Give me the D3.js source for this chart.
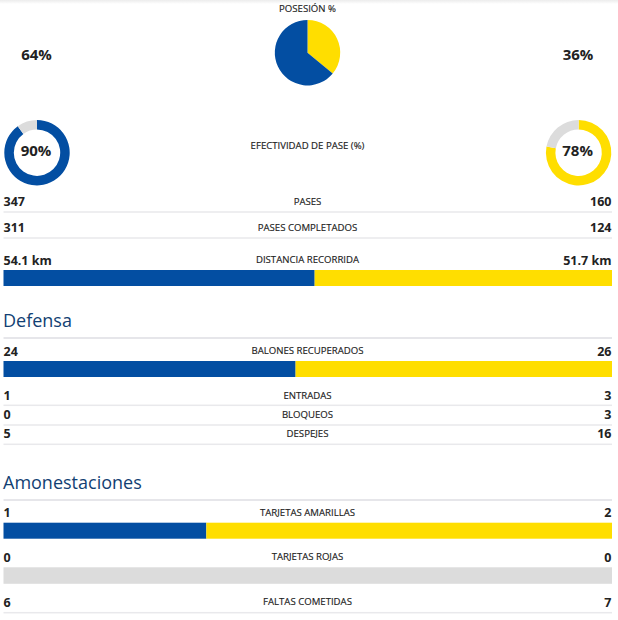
<!DOCTYPE html>
<html><head><meta charset="utf-8">
<script src="https://cdn.jsdelivr.net/npm/d3@7"></script>
<style>
html,body{margin:0;padding:0;background:#fff}
svg{display:block}
text{font-family:"Open Sans","Noto Sans",sans-serif}
.lab{font-size:9.6px;font-weight:400;fill:#222;text-anchor:middle;stroke:#222;stroke-width:.15px}
.val{font-size:12.5px;font-weight:700;fill:#222}
.pct{font-size:15px;font-weight:700;fill:#222;text-anchor:middle}
.head{font-size:18px;font-weight:400;fill:#123f73}
</style></head><body>
<svg id="c" width="618" height="620"></svg>
<script>
const possessionLabel = "POSESIÓN %";
const possession = [64, 36];
const passLabel = "EFECTIVIDAD DE PASE (%)";
const passAccuracy = [90, 78];
const headings = ["Defensa", "Amonestaciones"];
const rowLabels = ["PASES","PASES COMPLETADOS","DISTANCIA RECORRIDA","BALONES RECUPERADOS","ENTRADAS","BLOQUEOS","DESPEJES","TARJETAS AMARILLAS","TARJETAS ROJAS","FALTAS COMETIDAS"];
const homeValues = [347,311,54.1,24,1,0,5,1,0,6];
const awayValues = [160,124,51.7,26,3,3,16,2,0,7];
const units = ["","", " km","","","","","","",""];
const hasBar = [false,false,true,true,false,false,false,true,true,false];

const BLUE="#034ea2", YEL="#ffde00", GREY="#dcdcdc", RULE="#e9e9ec";
const svg=d3.select("#c");
const L=3.5,R=612;
const x=d3.scaleLinear().domain([0,1]).range([L,R]);

// top shadow
const g=svg.append("defs").append("linearGradient").attr("id","sh").attr("x2",0).attr("y2",1);
g.append("stop").attr("offset",0).attr("stop-color","#ececec");
g.append("stop").attr("offset",1).attr("stop-color","#fff");
svg.append("rect").attr("width",618).attr("height",4).attr("fill","url(#sh)");

// possession
svg.append("text").attr("class","lab").attr("x",307.5).attr("y",11.5).text(possessionLabel);
const pie=d3.pie().sort(null);
const arcP=d3.arc().innerRadius(0).outerRadius(32.7);
svg.append("g").attr("transform","translate(307.5,52.7)").selectAll("path")
  .data(pie([possession[1],possession[0]])).join("path")
  .attr("d",arcP).attr("fill",(d,i)=>i?BLUE:YEL);
svg.append("text").attr("class","pct").attr("x",36.5).attr("y",59.5).text(possession[0]+"%");
svg.append("text").attr("class","pct").attr("x",578).attr("y",59.5).text(possession[1]+"%");

// pass accuracy
svg.append("text").attr("class","lab").attr("x",307.5).attr("y",149).text(passLabel);
const arcD=d3.arc().innerRadius(23.2).outerRadius(32.7);
[[37,BLUE],[578.6,YEL]].forEach(([cx,col],k)=>{
  const v=passAccuracy[k];
  svg.append("g").attr("transform",`translate(${cx},152.7)`).selectAll("path")
    .data(pie([v,100-v])).join("path").attr("d",arcD).attr("fill",(d,i)=>i?GREY:col);
  svg.append("text").attr("class","pct").attr("x",cx-1).attr("y",156.3).text(v+"%");
});

// headings
const headY=[327,489], headRule=[338,500];
headings.forEach((h,i)=>{
  svg.append("text").attr("class","head").attr("x",3).attr("y",headY[i]).text(h);
  svg.append("rect").attr("x",L).attr("y",headRule[i]-.75).attr("width",R-L).attr("height",1.5).attr("fill","#dedee4");
});

// rows
const rowY=[201.7,227.7,260,351,395.3,414.5,433.5,512.5,557,602];
const ruleY=[212,238,null,null,405.3,425,444.3,null,null,612.7];
const barY=[null,null,270,361,null,null,null,522.7,567.3,null];
rowLabels.forEach((lab,i)=>{
  const a=homeValues[i],b=awayValues[i],y=rowY[i];
  svg.append("text").attr("class","lab").attr("x",307.5).attr("y",y+3.3).text(lab);
  svg.append("text").attr("class","val").attr("x",3.5).attr("y",y+4.5).text(a+units[i]);
  svg.append("text").attr("class","val").attr("x",611.5).attr("y",y+4.5).attr("text-anchor","end").text(b+units[i]);
  if(ruleY[i]!==null) svg.append("rect").attr("x",L).attr("y",ruleY[i]-.75).attr("width",R-L).attr("height",1.5).attr("fill",RULE);
  if(hasBar[i]){
    const h=16;
    if(a+b===0){
      svg.append("rect").attr("x",x(0)).attr("y",barY[i]).attr("width",x(1)-x(0)).attr("height",h+.5).attr("fill",GREY);
    } else {
      const s=a/(a+b);
      svg.append("rect").attr("x",x(0)).attr("y",barY[i]).attr("width",x(s)-x(0)).attr("height",h).attr("fill",BLUE);
      svg.append("rect").attr("x",x(s)).attr("y",barY[i]).attr("width",x(1)-x(s)).attr("height",h).attr("fill",YEL);
    }
  }
});
</script></body></html>
